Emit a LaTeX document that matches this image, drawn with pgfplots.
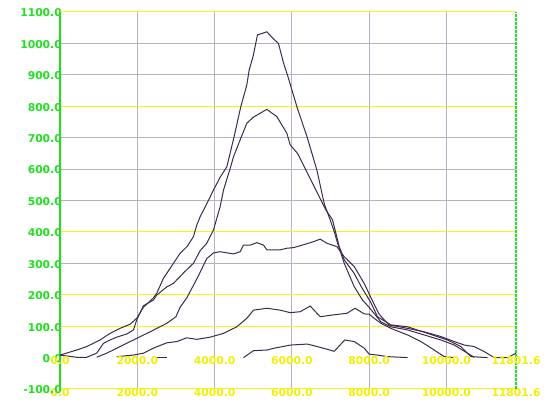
\documentclass[border=0pt]{standalone}
\usepackage{pgfplots}
\pgfplotsset{compat=1.18}
\usepackage{fontspec}
\setmainfont{DejaVu Sans}
\definecolor{curve}{RGB}{62,42,78}
\definecolor{gridgrey}{RGB}{185,176,200}
\definecolor{gridyellow}{RGB}{245,245,20}
\definecolor{labyellow}{RGB}{240,240,0}
\definecolor{axgreen}{RGB}{30,225,30}
\newcommand{\labfont}{\fontsize{10.8}{13}\selectfont\bfseries}
\begin{document}
\begin{tikzpicture}
\path[use as bounding box] (-60bp,-18bp) rectangle (488bp,389bp);
\begin{axis}[
  at={(0,0)}, anchor=south west,
  scale only axis, width=456bp, height=377bp,
  xmin=0, xmax=11801.6, ymin=-100, ymax=1100,
  scaled x ticks=false, scaled y ticks=false,
  axis line style={draw=none},
  tick style={draw=none},
  clip=false,
  ytick={-100,0,100,200,300,400,500,600,700,800,900,1000,1100},
  yticklabels={-100.0,0.0,100.0,200.0,300.0,400.0,500.0,600.0,700.0,800.0,900.0,1000.0,1100.0},
  yticklabel style={anchor=east, inner sep=0pt, xshift=2bp, yshift=-1bp, text=axgreen, font=\labfont},
  xtick={0,2000,4000,6000,8000,10000,11801.6},
  xticklabels={0.0,2000.0,4000.0,6000.0,8000.0,10000.0,11801.6},
  xticklabel style={anchor=center, inner sep=0pt, yshift=-3.5bp, text=labyellow, font=\labfont},
]
% grey grid
\foreach \xx in {2000,4000,6000,8000,10000} {
  \edef\tmp{\noexpand\draw[gridgrey, line width=0.8bp] (axis cs:\xx,-100) -- (axis cs:\xx,1100);}\tmp
}
\foreach \yy in {300,500,600,700,900,1000} {
  \edef\tmp{\noexpand\draw[gridgrey, line width=0.8bp] (axis cs:0,\yy) -- (axis cs:11801.6,\yy);}\tmp
}
\foreach \yy in {-100,100,200,400,800,1100} {
  \edef\tmp{\noexpand\draw[gridyellow, line width=1bp] (axis cs:0,\yy) -- (axis cs:11801.6,\yy);}\tmp
}
\draw[axgreen, line width=1.3bp] (axis cs:0,-100) -- (axis cs:0,1100);
\draw[axgreen, line width=1.3bp, dash pattern=on 3bp off 1bp] (axis cs:11801.6,-100) -- (axis cs:11801.6,1100);

% A
\addplot[curve, line width=1bp] coordinates {
(0,8) (431,24) (690,35) (1036,56) (1295,77) (1554,93) (1813,106) (1986,125) (2158,160) (2417,190) (2504,205) (2676,252) (2763,268) (2935,300) (3108,332) (3300,355) (3453,385) (3540,422) (3626,448) (3800,490) (3971,533) (4150,575) (4317,607) (4500,700) (4680,799) (4835,868) (4895,915) (5000,960) (5110,1027) (5353,1037) (5520,1015) (5654,1000) (5780,940) (5913,889) (6130,799) (6400,700) (6648,597) (6838,490) (6993,438) (7100,400) (7183,364) (7356,300) (7614,226) (7830,183) (8000,160) (8305,114) (8563,98) (8995,88) (9426,72) (9858,56) (10202,40) (10547,14) (10720,1)
};
% B
\addplot[curve, line width=1bp] coordinates {
(0,8) (431,1) (690,1) (949,14) (1122,45) (1295,56) (1468,65) (1727,75) (1900,88) (1986,120) (2158,165) (2417,183) (2504,199) (2763,225) (2935,236) (3200,270) (3453,300) (3626,340) (3799,364) (3971,406) (4144,480) (4231,533) (4400,600) (4490,639) (4662,693) (4835,746) (5000,765) (5353,790) (5612,767) (5871,714) (5957,677) (6147,650) (6405,587) (6665,523) (6881,470) (7054,438) (7227,353) (7356,311) (7614,268) (7800,225) (8046,175) (8218,130) (8563,104) (8995,98) (9513,77) (10030,56) (10375,35) (10634,3) (11066,0)
};
% C
\addplot[curve, line width=1bp] coordinates {
(949,1) (1209,14) (1554,35) (1900,56) (2331,82) (2763,109) (3000,130) (3108,160) (3281,190) (3540,250) (3799,315) (3971,333) (4144,337) (4490,330) (4662,337) (4749,358) (4921,358) (5094,366) (5267,358) (5353,343) (5698,343) (5871,348) (6043,350) (6216,356) (6562,369) (6734,377) (6907,364) (7166,353) (7356,321) (7614,290) (7873,236) (8050,190) (8250,140) (8391,120) (8520,104) (8995,93) (9426,82) (9858,67) (10202,51) (10461,40) (10720,35) (10979,19) (11238,0) (11584,0) (11801.6,14)
};
% D
\addplot[curve, line width=1bp] coordinates {
(1468,3) (1900,8) (2158,14) (2417,30) (2763,47) (3022,51) (3281,63) (3540,58) (3885,65) (4231,77) (4576,98) (4835,125) (5008,151) (5180,154) (5353,157) (5698,151) (5957,143) (6216,146) (6475,164) (6734,130) (7079,136) (7425,141) (7640,157) (7873,139) (8002,138) (8132,125) (8305,109) (8563,93) (8995,72) (9340,51) (9685,24) (9944,3) (10202,0)
};
% E
\addplot[curve, line width=1bp] coordinates {
(4749,0) (5008,22) (5353,24) (5543,30) (5974,40) (6405,43) (6752,32) (7097,20) (7370,56) (7614,51) (7873,30) (8002,11) (8218,8) (8477,3) (8995,0)
};
\addplot[curve, line width=1bp] coordinates {(2500,1) (2760,1)};

% upper row of x labels, on the zero line
\foreach \xx/\ll in {0/0.0,2000/2000.0,4000/4000.0,6000/6000.0,8000/8000.0,10000/10000.0,11801.6/11801.6} {
  \edef\tmp{\noexpand\node[text=labyellow, inner sep=0pt, anchor=center, yshift=-3.5bp, font=\noexpand\labfont] at (axis cs:\xx,0) {\ll};}\tmp
}
\end{axis}
\end{tikzpicture}
\end{document}
